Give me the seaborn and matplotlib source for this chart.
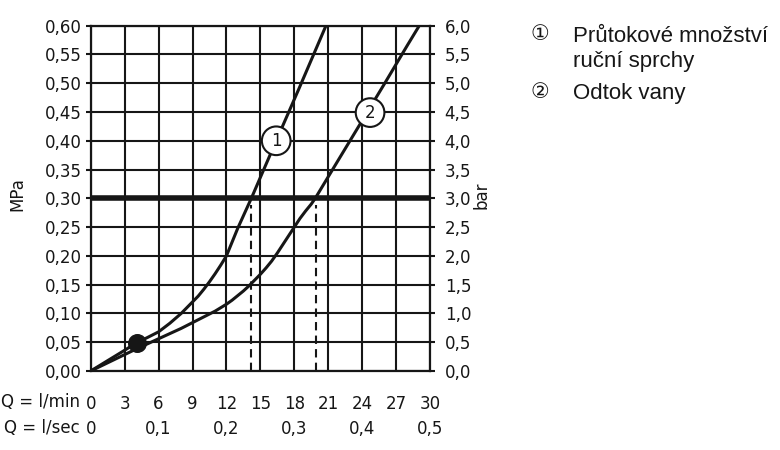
import pandas as pd
import seaborn as sns
import matplotlib.pyplot as plt

# flow curves (Q in l/min, p in MPa)
q_shower = [0, 1, 2, 3, 4.05, 5, 6, 7, 8, 8.5, 9, 9.5, 10, 10.5, 11, 11.5, 12, 12.5, 13, 13.6,
            14.2, 16.4, 18.4, 20.8]
p_shower = [0, 0.012, 0.024, 0.036, 0.049, 0.058, 0.068, 0.083, 0.100, 0.110, 0.120, 0.130,
            0.142, 0.155, 0.169, 0.184, 0.200, 0.224, 0.248, 0.274, 0.300, 0.400, 0.490, 0.600]

q_bath = [0, 2, 4, 6, 8, 9, 10, 11, 11.5, 12, 12.5, 13, 13.5, 14, 14.5, 15, 15.5, 16, 16.5,
          17, 17.5, 18, 18.5, 19, 19.5, 19.85, 22, 24, 26, 28, 29.05]
p_bath = [0, 0.019, 0.038, 0.056, 0.074, 0.084, 0.094, 0.104, 0.110, 0.116, 0.123, 0.131,
          0.139, 0.148, 0.158, 0.168, 0.179, 0.191, 0.205, 0.220, 0.235, 0.250, 0.265, 0.278,
          0.290, 0.300, 0.370, 0.435, 0.500, 0.566, 0.600]

dot_q = [4.05]
dot_p = [0.049]

ref_pressure = 0.30
cross_q = [14.2, 19.9]

label_txt = ['1', '2']
label_q = [16.4, 24.7]
label_p = [0.40, 0.449]

q_min_ticks = list(range(0, 31, 3))
q_sec_ticks = [0, 0.1, 0.2, 0.3, 0.4, 0.5]
mpa_ticks = [i * 0.05 for i in range(13)]
bar_ticks = [i * 0.5 for i in range(13)]

legend_lines = ['Průtokové množství', 'ruční sprchy', 'Odtok vany']

ink = '#161616'

sns.set_theme(style='white')
plt.rcParams['font.family'] = ['DejaVu Sans']
plt.rcParams['text.color'] = ink

df1 = pd.DataFrame({'Q': q_shower, 'p': p_shower})
df2 = pd.DataFrame({'Q': q_bath, 'p': p_bath})

fig = plt.figure(figsize=(7.8, 4.5), dpi=100)
ax = fig.add_axes([0.1163, 0.1756, 0.4350, 0.7673])

ax.set_xlim(0, 30)
ax.set_ylim(0, 0.60)
ax.set_xticks(q_min_ticks)
ax.set_xticklabels([str(t) for t in q_min_ticks])
ax.set_yticks(mpa_ticks)
ax.set_yticklabels([f'{t:.2f}'.replace('.', ',') for t in mpa_ticks])
ax.grid(True, color=ink, lw=1.5)
ax.set_axisbelow(True)
for s in ax.spines.values():
    s.set_color(ink)
    s.set_linewidth(1.6)
ax.tick_params(axis='x', direction='out', length=3, width=1.5, color=ink, pad=14,
               labelsize=12, labelcolor=ink)
ax.tick_params(axis='y', direction='out', length=3.4, width=1.5, color=ink, pad=3,
               labelsize=12, labelcolor=ink)

sns.lineplot(data=df1, x='Q', y='p', ax=ax, color=ink, lw=2.2, sort=False, zorder=3)
sns.lineplot(data=df2, x='Q', y='p', ax=ax, color=ink, lw=2.2, sort=False, zorder=3)
ax.axhline(ref_pressure, color=ink, lw=4, zorder=4)
ax.vlines(cross_q, 0, ref_pressure - 0.012, colors=ink, lw=1.5,
          linestyles=(0, (4, 2.5)), zorder=3)
sns.scatterplot(x=dot_q, y=dot_p, ax=ax, s=160, color=ink, edgecolor=ink, zorder=5)

for t, q, p in zip(label_txt, label_q, label_p):
    ax.text(q, p, t, ha='center', va='center', fontsize=12, color=ink, zorder=6,
            bbox=dict(boxstyle='circle,pad=0.32', fc='white', ec=ink, lw=1.5))

ax.set_xlabel('')
ax.set_ylabel('')

# second y axis in bar
ax2 = ax.twinx()
ax2.set_ylim(0, 6)
ax2.set_yticks(bar_ticks)
ax2.set_yticklabels([f'{t:.1f}'.replace('.', ',') for t in bar_ticks])
ax2.tick_params(axis='y', direction='out', length=3.6, width=1.5, color=ink, pad=7,
                labelsize=12, labelcolor=ink)
ax2.grid(False)
for s in ax2.spines.values():
    s.set_visible(False)

# second x row in l/sec
sec = ax.secondary_xaxis(-0.135, functions=(lambda q: q / 60, lambda s: s * 60))
sec.set_xticks(q_sec_ticks)
sec.set_xticklabels(['0' if t == 0 else f'{t:.1f}'.replace('.', ',') for t in q_sec_ticks])
sec.tick_params(axis='x', length=0, pad=2, labelsize=12, labelcolor=ink)
sec.spines['bottom'].set_visible(False)

fig.text(80 / 780, 1 - 407.3 / 450, 'Q = l/min', ha='right', va='baseline', fontsize=12)
fig.text(80 / 780, 1 - 433 / 450, 'Q = l/sec', ha='right', va='baseline', fontsize=12)
fig.text(17.5 / 780, 1 - 194 / 450, 'MPa', rotation=90, ha='center', va='center', fontsize=12)
fig.text(481.7 / 780, 1 - 195.5 / 450, 'bar', rotation=90, ha='center', va='center', fontsize=12)

# legend text
lfam = ['Liberation Sans', 'DejaVu Sans']
fig.text(539.5 / 780, 1 - 40.5 / 450, '①', ha='center', va='baseline', fontsize=15, family=lfam)
fig.text(573 / 780, 1 - 41.7 / 450, legend_lines[0], va='baseline', fontsize=16, family=lfam)
fig.text(573 / 780, 1 - 66.7 / 450, legend_lines[1], va='baseline', fontsize=16, family=lfam)
fig.text(539.5 / 780, 1 - 98.1 / 450, '②', ha='center', va='baseline', fontsize=15, family=lfam)
fig.text(573 / 780, 1 - 99.3 / 450, legend_lines[2], va='baseline', fontsize=16, family=lfam)

fig.savefig('out.png', dpi=100)
